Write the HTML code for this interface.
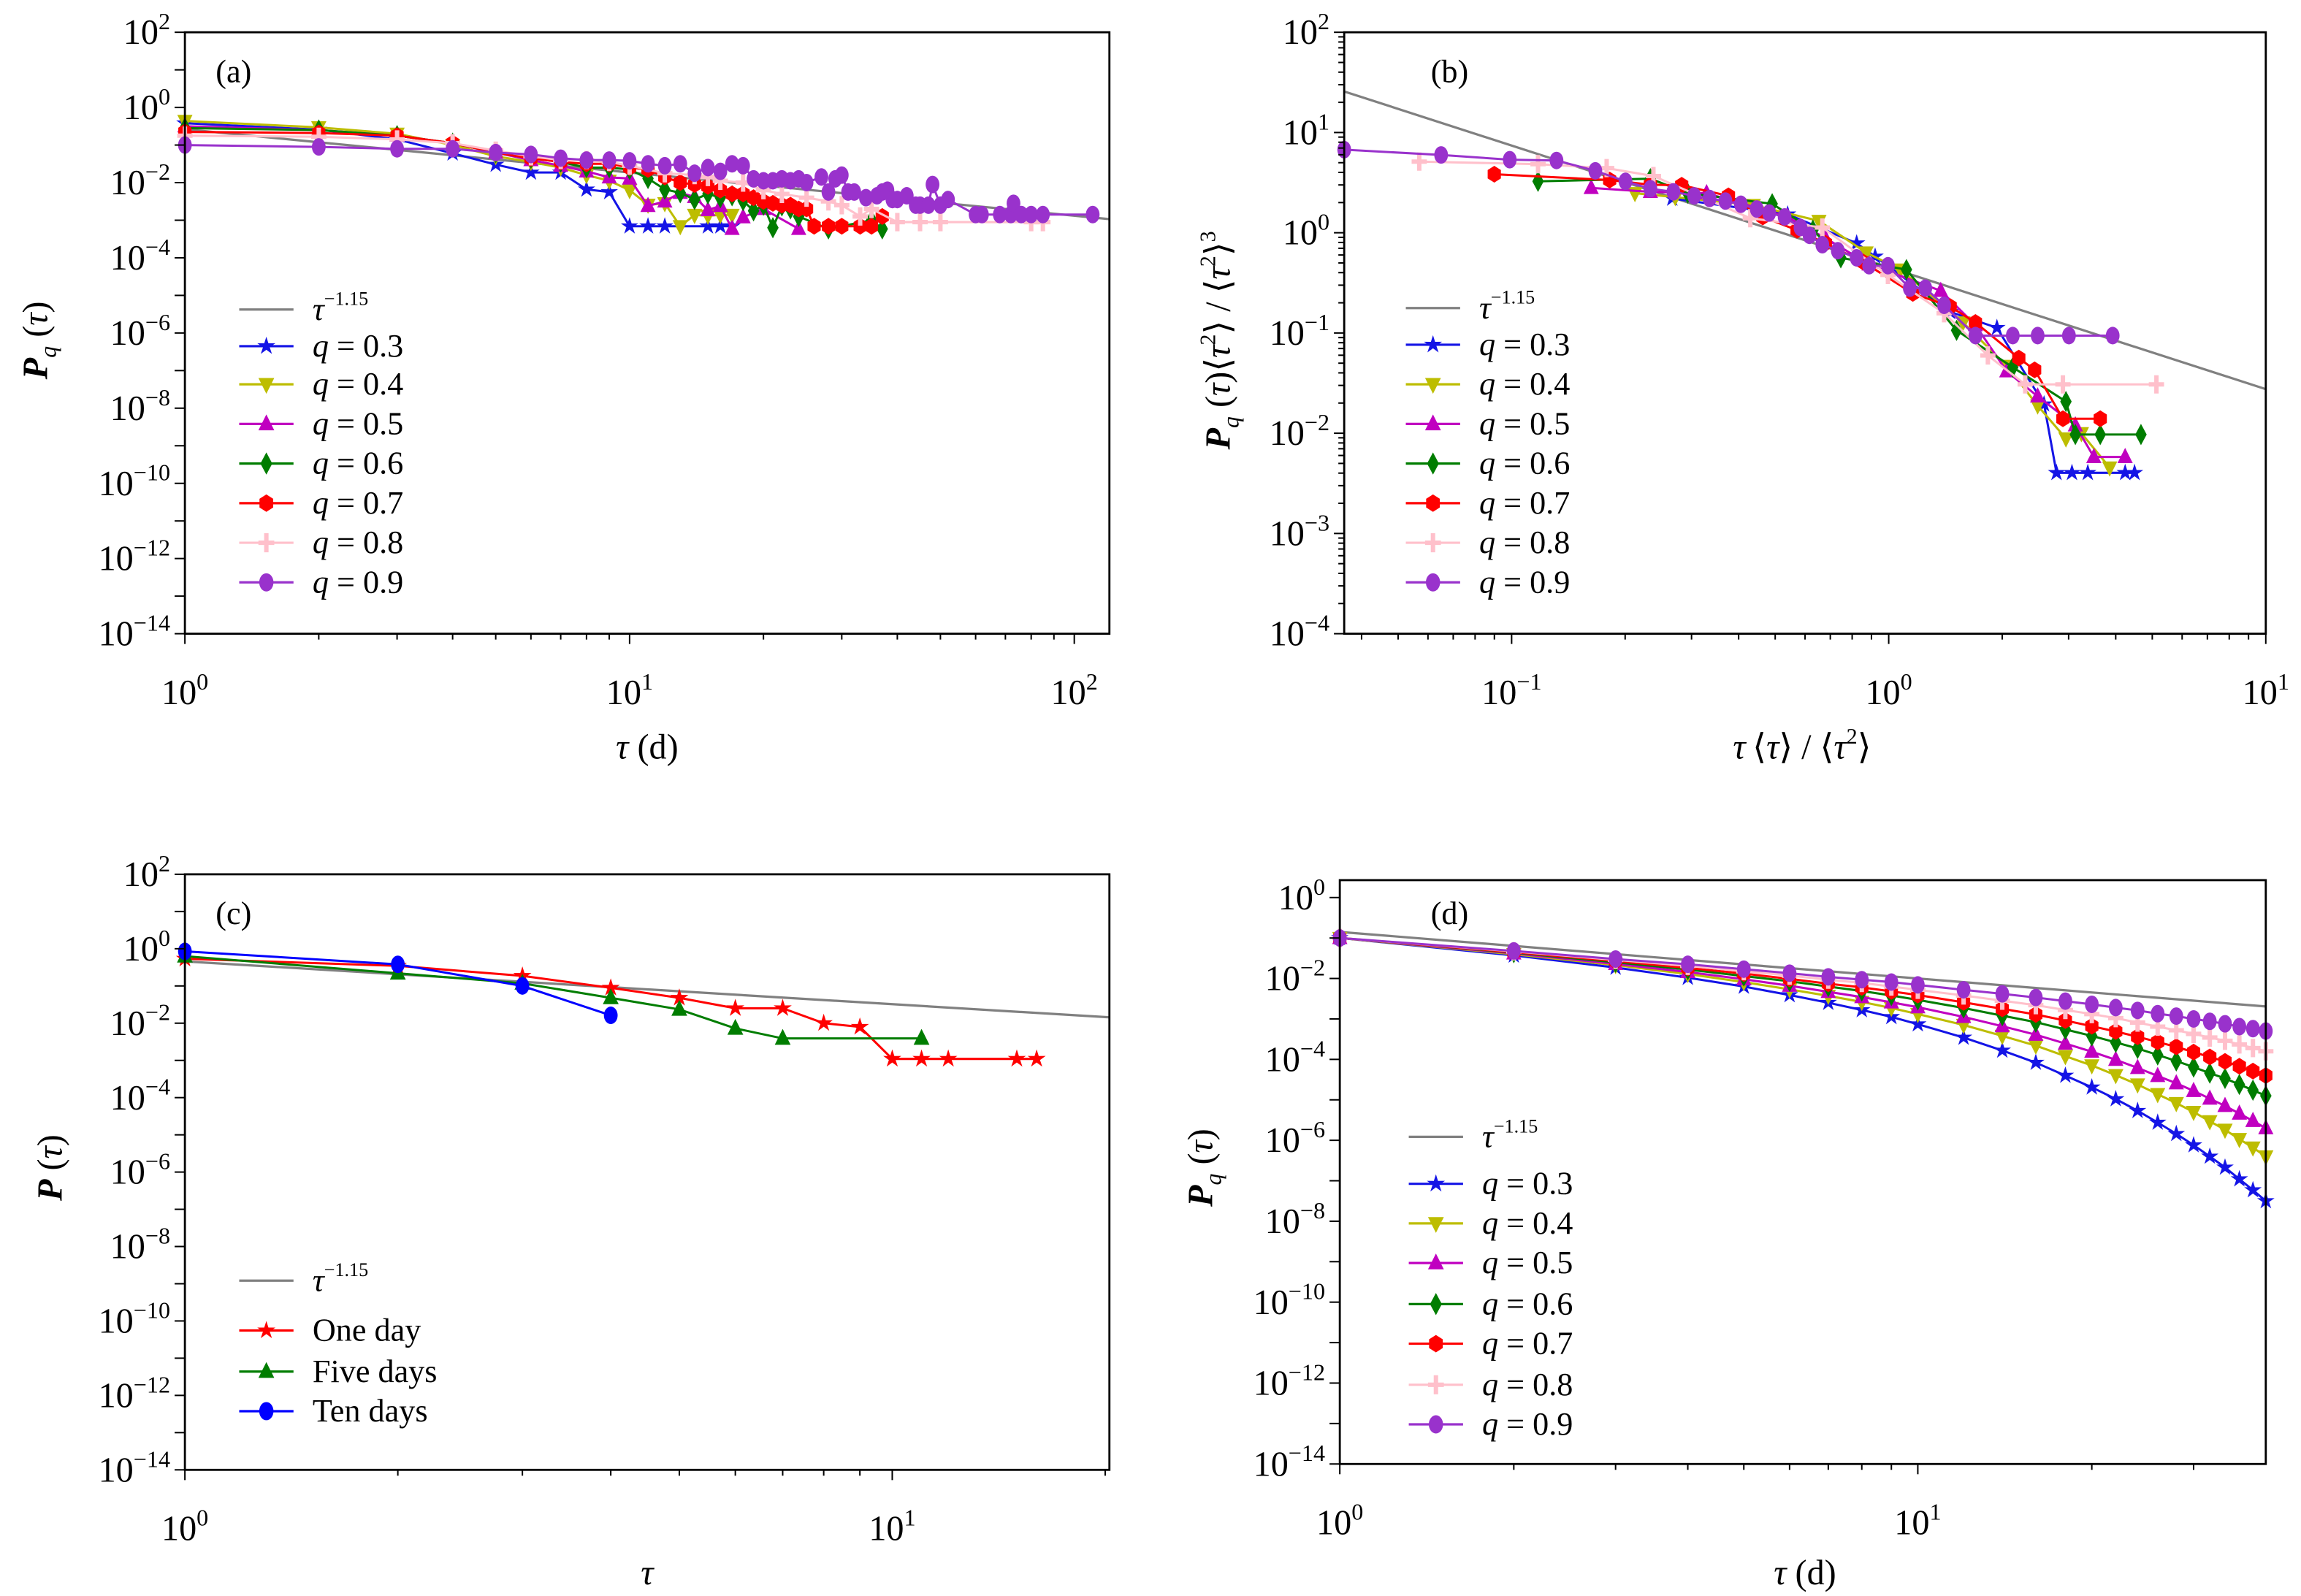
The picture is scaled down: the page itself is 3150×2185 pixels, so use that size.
<!DOCTYPE html>
<html><head><meta charset="utf-8"><style>
html,body{margin:0;padding:0;background:#fff}
svg{display:block}
text{font-family:"Liberation Serif",serif;fill:#000}
</style></head><body>
<svg id="fig" xmlns="http://www.w3.org/2000/svg" width="3150" height="2185" viewBox="0 0 1568 1088" preserveAspectRatio="none"></svg>
<script>
// ---------- Panel (a) data: tau (d), log10 P ----------
const aTau03=[1,2,3,4,5,6,7,8,9,10,11,12,15,16,17];
const aP03=[-0.42,-0.59,-0.85,-1.22,-1.52,-1.73,-1.73,-2.18,-2.25,-3.16,-3.16,-3.16,-3.16,-3.16,-3.16];
const aTau04=[1,2,3,4,5,6,7,8,9,10,11,12,13,14,15,16,17];
const aP04=[-0.36,-0.53,-0.7,-1.0,-1.3,-1.45,-1.6,-1.8,-1.95,-2.2,-2.59,-2.55,-3.16,-2.86,-2.88,-2.86,-2.86];
const aTau05=[1,2,3,4,5,6,7,8,9,10,11,12,13,14,15,16,17,18,20,24];
const aP05=[-0.5,-0.6,-0.75,-0.95,-1.2,-1.4,-1.55,-1.7,-1.86,-1.89,-2.62,-2.5,-2.27,-2.38,-2.73,-2.62,-3.23,-2.92,-2.7,-3.23];
const aTau06=[1,2,3,4,5,6,7,8,9,10,11,12,13,14,15,16,17,18,19,20,21,22,23,24,28,35,37];
const aP06=[-0.55,-0.6,-0.75,-0.95,-1.2,-1.35,-1.45,-1.6,-1.6,-1.65,-1.89,-2.18,-2.27,-2.45,-2.3,-2.4,-2.35,-2.48,-2.75,-2.6,-3.2,-2.62,-2.7,-2.9,-3.23,-3.0,-3.23];
const aTau07=[1,2,3,4,5,6,7,8,9,10,11,12,13,14,15,16,17,18,19,20,21,22,23,24,25,26,28,30,33,35,37];
const aP07=[-0.65,-0.68,-0.75,-0.95,-1.2,-1.35,-1.45,-1.5,-1.5,-1.6,-1.65,-1.85,-2.0,-2.05,-2.1,-2.2,-2.3,-2.3,-2.4,-2.5,-2.55,-2.6,-2.6,-2.7,-2.7,-3.16,-3.16,-3.16,-3.16,-3.16,-2.9];
const aTau08=[1,2,3,4,5,6,7,8,9,10,12,14,15,16,18,20,22,25,28,30,33,35,40,45,50,80,85];
const aP08=[-0.75,-0.78,-0.85,-0.95,-1.15,-1.3,-1.4,-1.4,-1.45,-1.55,-1.75,-1.8,-1.85,-1.95,-2.0,-2.2,-2.3,-2.4,-2.5,-2.6,-2.9,-2.7,-3.05,-3.05,-3.05,-3.05,-3.05];
const aTau09=[1,2,3,4,5,6,7,8,9,10,11,12,13,14,15,16,17,18,19,20,21,22,23,24,25,27,28,29,30,31,32,34,36,37,38,39,40,42,44,45,47,48,50,52,60,62,68,72,73,76,80,85,110];
const aP09=[-1.0,-1.05,-1.1,-1.1,-1.2,-1.25,-1.35,-1.4,-1.4,-1.42,-1.5,-1.55,-1.5,-1.75,-1.6,-1.7,-1.5,-1.55,-1.9,-1.95,-1.95,-1.9,-1.95,-1.9,-2.0,-1.85,-2.25,-1.9,-1.8,-2.25,-2.25,-2.4,-2.35,-2.25,-2.2,-2.45,-2.45,-2.35,-2.6,-2.6,-2.6,-2.05,-2.6,-2.45,-2.85,-2.85,-2.85,-2.85,-2.55,-2.85,-2.85,-2.85,-2.85];
const aRefLogC=-0.58, refExp=1.15;

// ---------- Panel (b) data: log10 x, log10 y ----------
const bX03=[-0.574,-0.268,-0.085,-0.036,0.163,0.287,0.412,0.445,0.486,0.528,0.627,0.652];
const bY03=[0.342,0.184,-0.105,-0.237,-0.790,-0.948,-1.711,-2.395,-2.395,-2.395,-2.395,-2.395];
const bX04=[-0.673,-0.566,-0.359,-0.185,-0.060,0.031,0.197,0.313,0.395,0.470,0.511,0.586];
const bY04=[0.395,0.355,0.276,0.118,-0.197,-0.368,-0.895,-1.329,-1.724,-2.053,-2.0,-2.342];
const bX05=[-0.789,-0.632,-0.483,-0.268,-0.168,-0.052,0.138,0.230,0.313,0.395,0.495,0.544,0.627];
const bY05=[0.447,0.408,0.395,0.158,-0.053,-0.316,-0.579,-0.921,-1.382,-1.632,-1.921,-2.237,-2.237];
const bX06=[-0.930,-0.632,-0.533,-0.309,-0.201,-0.127,0.047,0.180,0.329,0.470,0.495,0.561,0.669];
const bY06=[0.513,0.539,0.395,0.289,0.026,-0.250,-0.368,-0.974,-1.342,-1.684,-2.013,-2.013,-2.013];
const bX07=[-1.046,-0.740,-0.632,-0.549,-0.425,-0.334,-0.243,-0.168,-0.069,0.064,0.163,0.230,0.345,0.387,0.462,0.561];
const bY07=[0.584,0.526,0.479,0.474,0.368,0.158,0.026,-0.105,-0.289,-0.605,-0.737,-0.895,-1.250,-1.368,-1.855,-1.855];
const bX08=[-1.245,-0.930,-0.748,-0.624,-0.367,-0.176,-0.002,0.147,0.263,0.362,0.462,0.710];
const bY08=[0.710,0.684,0.645,0.566,0.145,0.052,-0.421,-0.803,-1.224,-1.513,-1.513,-1.513];
const bX09=[-1.444,-1.187,-1.005,-0.881,-0.778,-0.698,-0.632,-0.571,-0.516,-0.475,-0.433,-0.392,-0.350,-0.317,-0.276,-0.234,-0.210,-0.176,-0.135,-0.085,-0.052,-0.002,0.056,0.097,0.147,0.230,0.329,0.395,0.478,0.594];
const bY09=[0.829,0.776,0.729,0.721,0.618,0.513,0.439,0.408,0.368,0.342,0.316,0.284,0.237,0.197,0.158,0.052,-0.026,-0.119,-0.179,-0.250,-0.329,-0.329,-0.553,-0.553,-0.724,-1.026,-1.026,-1.026,-1.026,-1.026];
const bRefC=-0.345, bRefSlope=1.215;

// ---------- Panel (c) data: tau, log10 P ----------
const cTauOne=[1,2,3,4,5,6,7,8,9,10,11,12,15,16];
const cPOne=[-0.27,-0.46,-0.73,-1.05,-1.32,-1.6,-1.6,-2.0,-2.1,-2.96,-2.96,-2.96,-2.96,-2.96];
const cTauFive=[1,2,3,4,5,6,7,11];
const cPFive=[-0.2,-0.66,-0.93,-1.32,-1.63,-2.14,-2.41,-2.41];
const cTauTen=[1,2,3,4];
const cPTen=[-0.07,-0.42,-1.0,-1.79];
const cRefLogC=-0.34;

// ---------- Panel (d) data: tau, log10 P ----------
const dTau=[1,2,3,4,5,6,7,8,9,10,12,14,16,18,20,22,24,26,28,30,32,34,36,38,40];
const dP03=[-1,-1.43,-1.73,-1.98,-2.20,-2.41,-2.60,-2.78,-2.95,-3.13,-3.46,-3.78,-4.08,-4.40,-4.69,-4.98,-5.27,-5.56,-5.84,-6.12,-6.40,-6.67,-6.96,-7.23,-7.50];
const dP04=[-1,-1.40,-1.67,-1.89,-2.09,-2.27,-2.43,-2.58,-2.73,-2.88,-3.15,-3.42,-3.66,-3.92,-4.15,-4.39,-4.62,-4.86,-5.08,-5.30,-5.53,-5.74,-5.97,-6.18,-6.40];
const dP05=[-1,-1.38,-1.64,-1.84,-2.02,-2.18,-2.33,-2.46,-2.59,-2.71,-2.95,-3.18,-3.39,-3.61,-3.81,-4.01,-4.21,-4.41,-4.59,-4.78,-4.97,-5.15,-5.34,-5.52,-5.70];
const dP06=[-1,-1.36,-1.60,-1.78,-1.94,-2.07,-2.20,-2.31,-2.42,-2.53,-2.73,-2.92,-3.08,-3.26,-3.42,-3.58,-3.73,-3.89,-4.04,-4.19,-4.34,-4.47,-4.62,-4.76,-4.90];
const dP07=[-1,-1.35,-1.57,-1.74,-1.88,-2.01,-2.13,-2.22,-2.32,-2.41,-2.59,-2.75,-2.89,-3.04,-3.18,-3.31,-3.44,-3.57,-3.69,-3.82,-3.94,-4.05,-4.17,-4.29,-4.40];
const dP08=[-1,-1.33,-1.54,-1.69,-1.82,-1.93,-2.03,-2.11,-2.20,-2.28,-2.42,-2.55,-2.66,-2.78,-2.88,-2.98,-3.09,-3.19,-3.28,-3.37,-3.46,-3.54,-3.63,-3.72,-3.80];
const dP09=[-1,-1.32,-1.52,-1.65,-1.77,-1.87,-1.96,-2.03,-2.09,-2.16,-2.28,-2.38,-2.47,-2.56,-2.64,-2.72,-2.79,-2.87,-2.93,-3.00,-3.06,-3.12,-3.19,-3.24,-3.30];
const dRefLogC=-0.85;

const qLabels=["0.3","0.4","0.5","0.6","0.7","0.8","0.9"];
const COL={q3:"#1414e6",q4:"#bdbd00",q5:"#c000c0",q6:"#007d00",q7:"#ff0000",q8:"#ffc0cb",q9:"#9932cc",ref:"#808080"};
const qStyles=[["q3","star"],["q4","tridown"],["q5","triup"],["q6","diamond"],["q7","hex"],["q8","plus"],["q9","circle"]];

const NS="http://www.w3.org/2000/svg";
const svg=document.getElementById("fig");
function mk(tag,attrs,parent){const e=document.createElementNS(NS,tag);for(const k in attrs)e.setAttribute(k,attrs[k]);(parent||svg).appendChild(e);return e;}

function makeAxes(p){
  p.sx=v=>p.x0+(v-p.lxmin)/(p.lxmax-p.lxmin)*(p.x1-p.x0);
  p.sy=v=>p.y1-(v-p.lymin)/(p.lymax-p.lymin)*(p.y1-p.y0);
  const g=mk("g",{});
  
  
  p.g=g;
  const clipId="clip-"+p.name;
  const cp=mk("clipPath",{id:clipId},g);
  mk("rect",{x:p.x0-6,y:p.y0,width:p.x1-p.x0+12,height:p.y1-p.y0},cp);
  p.plot=mk("g",{"clip-path":"url(#"+clipId+")"},g);
  
  
  const frame=mk("rect",{x:p.x0,y:p.y0,width:p.x1-p.x0,height:p.y1-p.y0,fill:"none",stroke:"#000","stroke-width":1.4},g);
  
  
  const xa=mk("g",{},g);
  
  
  for(let d=Math.floor(p.lxmin);d<=Math.ceil(p.lxmax);d++){
    for(let m=1;m<10;m++){
      const lv=d+Math.log10(m);
      if(lv<p.lxmin-1e-6||lv>p.lxmax+1e-6)continue;
      const x=p.sx(lv);
      mk("line",{x1:x,x2:x,y1:p.y1,y2:p.y1+(m===1?7:4),stroke:"#000","stroke-width":1},xa);
      if(m===1){
        const t=mk("text",{x:x,y:p.y1+48,"text-anchor":"middle","font-size":24},xa);
        
        
        t.textContent="10";
        const s=mk("tspan",{dy:-10,"font-size":16},t);s.textContent=String(d).replace("-","\u2212");
      }
    }
  }
  const ya=mk("g",{},g);
  
  
  for(let d=Math.floor(p.lymin);d<=Math.floor(p.lymax);d++){
    const minor=p.yMinor;
    for(let m=1;m<10;m++){
      if(!minor&&m>1)continue;
      const lv=d+Math.log10(m);
      if(lv<p.lymin-1e-6||lv>p.lymax+1e-6)continue;
      const y=p.sy(lv);
      mk("line",{x1:p.x0,x2:p.x0-(m===1?7:4),y1:y,y2:y,stroke:"#000","stroke-width":1},ya);
      if(m===1&&(d-p.lyLabelStart)%p.lyStep===0){
        const t=mk("text",{x:p.x0-10,y:y+8,"text-anchor":"end","font-size":24},ya);
        
        
        t.textContent="10";
        const s=mk("tspan",{dy:-10,"font-size":16},t);s.textContent=String(d).replace("-","\u2212");
      }
    }
  }
  return p;
}

function marker(parent,kind,x,y,c,r){
  r=r||5.6;let e;
  if(kind==="circle")e=mk("ellipse",{cx:x,cy:y,rx:r*0.9,ry:r*1.15,fill:c},parent);
  else if(kind==="triup")e=mk("polygon",{points:`${x},${y-r*1.2} ${x-r},${y+r*0.8} ${x+r},${y+r*0.8}`,fill:c},parent);
  else if(kind==="tridown")e=mk("polygon",{points:`${x},${y+r*1.2} ${x-r},${y-r*0.8} ${x+r},${y-r*0.8}`,fill:c},parent);
  else if(kind==="diamond")e=mk("polygon",{points:`${x},${y-r*1.4} ${x+r*0.75},${y} ${x},${y+r*1.4} ${x-r*0.75},${y}`,fill:c},parent);
  else if(kind==="hex"){let pts=[];for(let i=0;i<6;i++){const a=Math.PI/3*i+Math.PI/6;pts.push((x+r*Math.cos(a))+","+(y+r*1.1*Math.sin(a)));}e=mk("polygon",{points:pts.join(" "),fill:c},parent);}
  else if(kind==="plus")e=mk("path",{d:`M${x-r},${y}H${x+r}M${x},${y-r*1.2}V${y+r*1.2}`,stroke:c,"stroke-width":3,fill:"none"},parent);
  else {let pts=[];for(let i=0;i<10;i++){const a=-Math.PI/2+i*Math.PI/5;const rr=i%2?r*0.45:r*1.2;pts.push((x+rr*Math.cos(a))+","+(y+rr*Math.sin(a)));}e=mk("polygon",{points:pts.join(" "),fill:c},parent);}
  return e;
}

function series(p,xs,ys,color,kind,name,logx,r){
  const g=mk("g",{},p.plot);
  
  
  const px=xs.map(v=>p.sx(logx?Math.log10(v):v)), py=ys.map(v=>p.sy(v));
  mk("polyline",{points:px.map((x,i)=>x+","+py[i]).join(" "),fill:"none",stroke:color,"stroke-width":1.5},g);
  px.forEach((x,i)=>{const m=marker(g,kind,x,py[i],color,r);
    
    });
}
function refLine(p,c,slope,name){
  const l=mk("line",{x1:p.sx(p.lxmin),y1:p.sy(c-slope*p.lxmin),x2:p.sx(p.lxmax),y2:p.sy(c-slope*p.lxmax),stroke:COL.ref,"stroke-width":1.6},p.plot);
  
  
}
function legend(p,x,ys,entries){
  const g=mk("g",{},p.g);
  
  
  entries.forEach((en,i)=>{
    const y=ys[i];
    const e=mk("g",{},g);
    
    
    mk("line",{x1:x,x2:x+37,y1:y,y2:y,stroke:en.color,"stroke-width":1.6},e);
    if(en.kind)marker(e,en.kind,x+18.5,y,en.color,5.4);
    const t=mk("text",{x:x+50,y:y+7,"font-size":22},e);
    if(en.ref){const a=mk("tspan",{"font-style":"italic"},t);a.textContent="\u03c4";const b=mk("tspan",{dy:-10,"font-size":13},t);b.textContent="\u22121.15";}
    else if(en.q){const a=mk("tspan",{"font-style":"italic"},t);a.textContent="q";const b=mk("tspan",{},t);b.textContent=" = "+en.q;}
    else t.textContent=en.label;
  });
}
function label(txt,x,y,name,size){const t=mk("text",{x:x,y:y,"font-size":size||22});t.textContent=txt;return t;}

const qLegend=()=>{const a=[{ref:true,color:COL.ref}];qStyles.forEach((s,i)=>a.push({q:qLabels[i],color:COL[s[0]],kind:s[1]}));return a;};

const A=makeAxes({name:"panel-a",x0:126,x1:756,y0:22,y1:432,lxmin:0,lxmax:2.079,lymin:-14,lymax:2,lyStep:2,lyLabelStart:-14,yMinor:false});
refLine(A,aRefLogC,refExp,"panel-a-reference-line");
[[aTau03,aP03],[aTau04,aP04],[aTau05,aP05],[aTau06,aP06],[aTau07,aP07],[aTau08,aP08],[aTau09,aP09]].forEach((d,i)=>series(A,d[0],d[1],COL[qStyles[i][0]],qStyles[i][1],"panel-a-series-q"+qLabels[i],true,5.2));
legend(A,163,[211,236,262,289,316,343,370,397],qLegend());
label("(a)",147,56,"panel-a-label");

const B=makeAxes({name:"panel-b",x0:916,x1:1544,y0:22,y1:432,lxmin:-1.444,lxmax:1,lymin:-4,lymax:2,lyStep:1,lyLabelStart:-4,yMinor:true});
refLine(B,bRefC,bRefSlope,"panel-b-reference-line");
[[bX03,bY03],[bX04,bY04],[bX05,bY05],[bX06,bY06],[bX07,bY07],[bX08,bY08],[bX09,bY09]].forEach((d,i)=>series(B,d[0],d[1],COL[qStyles[i][0]],qStyles[i][1],"panel-b-series-q"+qLabels[i],false,5.2));
legend(B,958,[210,235,262,289,316,343,370,397],qLegend());
label("(b)",975,56,"panel-b-label");

const C=makeAxes({name:"panel-c",x0:126,x1:756,y0:596,y1:1002,lxmin:0,lxmax:1.307,lymin:-14,lymax:2,lyStep:2,lyLabelStart:-14,yMinor:false});
refLine(C,cRefLogC,refExp,"panel-c-reference-line");
series(C,cTauOne,cPOne,COL.q7,"star","panel-c-series-one-day",true,5.4);
series(C,cTauFive,cPFive,COL.q6,"triup","panel-c-series-five-days",true,5.4);
series(C,cTauTen,cPTen,"#0000ff","circle","panel-c-series-ten-days",true,5.2);
legend(C,163,[873,907,935,962],[{ref:true,color:COL.ref},{label:"One day",color:COL.q7,kind:"star"},{label:"Five days",color:COL.q6,kind:"triup"},{label:"Ten days",color:"#0000ff",kind:"circle"}]);
label("(c)",147,630,"panel-c-label");

const D=makeAxes({name:"panel-d",x0:913,x1:1544,y0:600,y1:998,lxmin:0,lxmax:1.602,lymin:-14,lymax:0.43,lyStep:2,lyLabelStart:-14,yMinor:false});
refLine(D,dRefLogC,refExp,"panel-d-reference-line");
[dP03,dP04,dP05,dP06,dP07,dP08,dP09].forEach((d,i)=>series(D,dTau,d,COL[qStyles[i][0]],qStyles[i][1],"panel-d-series-q"+qLabels[i],true,5.2));
legend(D,960,[775,807,834,861,889,916,944,971],qLegend());
label("(d)",975,630,"panel-d-label");

function xt(parts,x,y,name){const t=mk("text",{x:x,y:y,"text-anchor":"middle","font-size":24});
  parts.forEach(p=>{const s=mk("tspan",p[1]||{},t);s.textContent=p[0];});}
xt([["\u03c4",{"font-style":"italic"}],[" (d)"]],441,517,"panel-a-x-axis-title");
xt([["\u03c4",{"font-style":"italic"}],["\u2009\u27e8"],["\u03c4",{"font-style":"italic"}],["\u27e9 / \u27e8"],["\u03c4",{"font-style":"italic"}],["2",{dy:-10,"font-size":15}],["\u27e9",{dy:10}]],1228,517,"panel-b-x-axis-title");
xt([["\u03c4",{"font-style":"italic"}]],441,1080,"panel-c-x-axis-title");
xt([["\u03c4",{"font-style":"italic"}],[" (d)"]],1230,1080,"panel-d-x-axis-title");
function yt(parts,x,y,name){const t=mk("text",{x:0,y:0,"text-anchor":"middle","font-size":24,transform:`translate(${x},${y}) rotate(-90)`});
  parts.forEach(p=>{const s=mk("tspan",p[1]||{},t);s.textContent=p[0];});}
const pq=[["P",{"font-style":"italic","font-weight":"bold"}],["q",{"font-style":"italic","font-size":16,dy:6}],[" (",{dy:-6}],["\u03c4",{"font-style":"italic"}],[")"]];
yt(pq,32,232,"panel-a-y-axis-title");
yt([["P",{"font-style":"italic","font-weight":"bold"}],["q",{"font-style":"italic","font-size":16,dy:6}],[" (",{dy:-6}],["\u03c4",{"font-style":"italic"}],[")\u27e8"],["\u03c4",{"font-style":"italic"}],["2",{dy:-10,"font-size":15}],["\u27e9 / \u27e8",{dy:10}],["\u03c4",{"font-style":"italic"}],["2",{dy:-10,"font-size":15}],["\u27e9",{dy:10}],["3",{dy:-10,"font-size":15}]],838,232,"panel-b-y-axis-title");
yt([["P",{"font-style":"italic","font-weight":"bold"}],[" ("],["\u03c4",{"font-style":"italic"}],[")"]],42,796,"panel-c-y-axis-title");
yt(pq,826,796,"panel-d-y-axis-title");
</script>
</body></html>
